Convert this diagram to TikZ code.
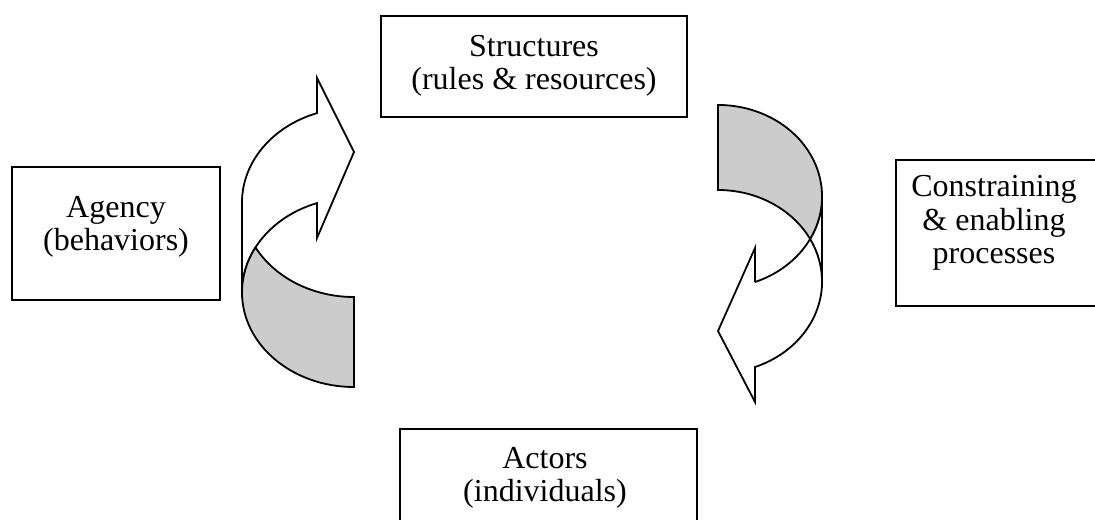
\documentclass[tikz,border=0pt]{standalone}
\usepackage{fontspec}
\setmainfont{Liberation Serif}
\usetikzlibrary{positioning}

\tikzset{
	box/.style={draw, rectangle, line width=0.7pt, inner sep=0pt},
	lbl/.style={align=center, inner sep=0pt, font=\fontsize{16}{16.8}\selectfont},
	band/.style={draw, line width=0.9pt, line join=miter, fill=white},
	back/.style={band, fill=black!20},
	bigarc/.style={x radius=56pt, y radius=47.3pt},
	smallarc/.style={x radius=52pt, y radius=45.75pt}
}

\begin{document}
\begin{tikzpicture}[x=0.5pt, y=0.5pt]
	\useasboundingbox (0,0) rectangle (1095,-519);
	\clip (0,0) rectangle (1095,-519);
	% boxes
	\node[box, minimum width=153pt, minimum height=50.5pt] (structures) at (534,-66.5) {};
	\node[box, minimum width=104pt, minimum height=66.5pt] (agency) at (116,-233.5) {};
	\node[box, minimum width=102pt, minimum height=73pt] (constraining) at (998,-233) {};
	\node[box, minimum width=148.5pt, minimum height=55.5pt] (actors) at (548.5,-484.5) {};
	\node[lbl] (structurestext) at (534,-66) {Structures\\(rules \& resources)};
	\node[lbl] (agencytext) at (116,-227) {Agency\\(behaviors)};
	\node[lbl] (constrainingtext) at (994,-223) {Constraining\\\& enabling\\processes};
	\node[lbl] (actorstext) at (545,-478) {Actors\\(individuals)};
	% left arrow
	\draw[band] (317,-113.1) -- (317,-78) -- (354,-152) -- (317,-238) -- (317,-203.1)
		arc[bigarc, start angle=109.3, end angle=180] -- (242,-202.4)
		arc[bigarc, start angle=180, end angle=109.3] -- cycle;
	\draw[back] (255.5,-247.4) arc[bigarc, start angle=208.4, end angle=270] -- (354,-387)
		arc[bigarc, start angle=270, end angle=180]
		arc[bigarc, start angle=180, end angle=151.6] -- cycle;
	% right arrow
	\draw[band] (755,-282) -- (755,-248) -- (718,-331) -- (755,-402) -- (755,-367)
		arc[smallarc, start angle=-69.2, end angle=0] -- (822,-196.5)
		arc[smallarc, start angle=0, end angle=-69.2] -- cycle;
	\draw[back] (810.1,-239) arc[smallarc, start angle=-27.7, end angle=90] -- (718,-190)
		arc[smallarc, start angle=90, end angle=0]
		arc[smallarc, start angle=0, end angle=27.7] -- cycle;
\end{tikzpicture}
\end{document}
